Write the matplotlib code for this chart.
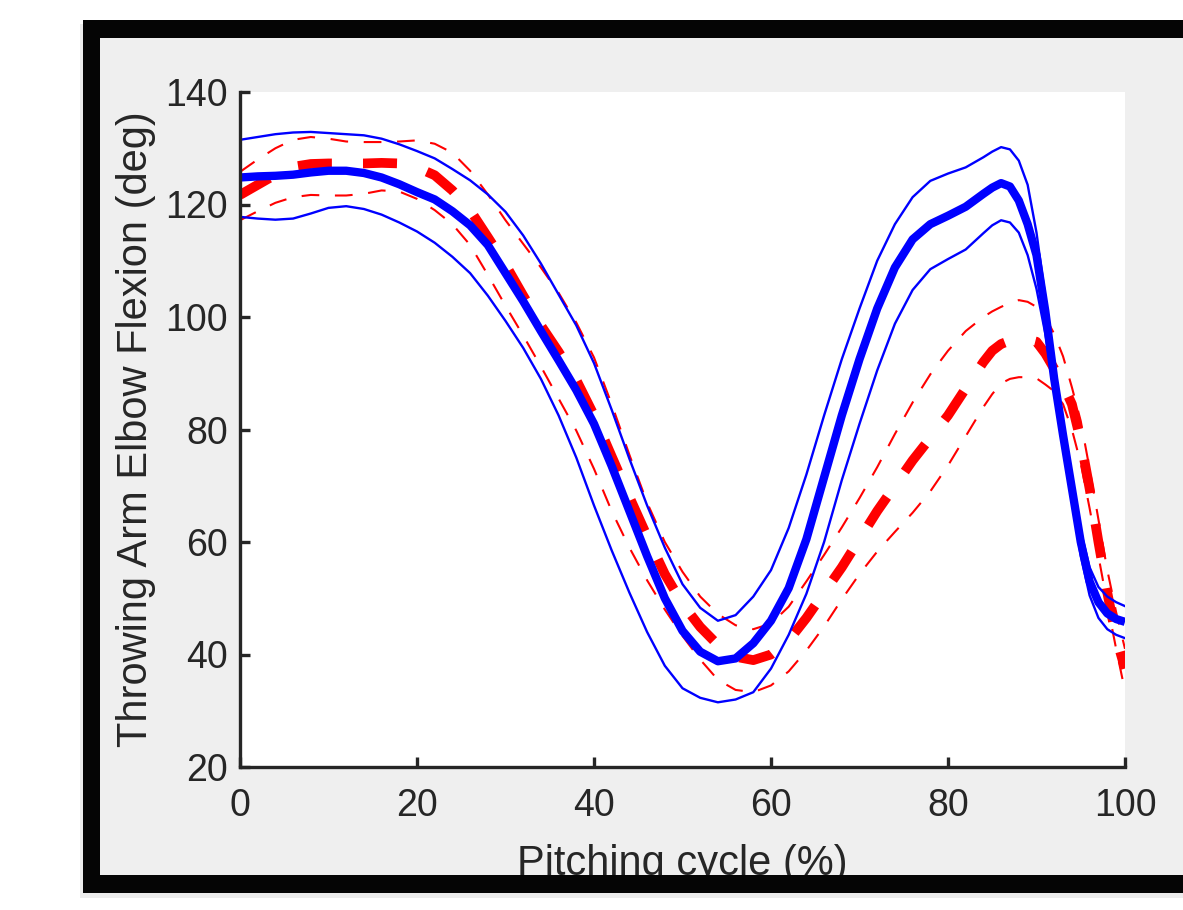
import matplotlib
matplotlib.use("Agg")
import matplotlib.pyplot as plt
from matplotlib.patches import Rectangle

# ---------------- data ----------------
cycle = [0, 2, 4, 6, 8, 10, 12, 14, 16, 18, 20, 22, 24, 26, 28, 30, 32, 34, 36, 38,
         40, 42, 44, 46, 48, 50, 52, 54, 56, 58, 60, 62, 64, 66, 68, 70, 72, 74, 76, 78,
         80, 82, 84, 85, 86, 87, 88, 89, 90, 91, 92, 93, 94, 95, 96, 97, 98, 99, 100]

blue_mean = [124.8, 125.0, 125.1, 125.3, 125.7, 126.0, 126.0, 125.6, 124.8, 123.6,
             122.2, 120.9, 118.8, 116.3, 112.8, 107.8, 102.8, 97.5, 92.3, 87.0,
             81.0, 73.5, 65.5, 57.5, 50.0, 44.2, 40.5, 38.8, 39.3, 42.0,
             46.0, 51.8, 60.5, 71.5, 82.5, 92.5, 101.5, 108.8, 113.8, 116.5,
             118.0, 119.6, 121.9, 123.0, 123.8, 123.2, 120.7, 116.5, 111.0, 101.0,
             89.0, 79.0, 69.5, 60.0, 53.0, 49.3, 47.3, 46.3, 45.8]

blue_upper = [131.5, 132.0, 132.5, 132.8, 132.9, 132.7, 132.5, 132.3, 131.7, 130.7,
              129.5, 128.2, 126.3, 124.3, 121.8, 118.7, 114.5, 109.5, 104.0, 98.5,
              91.8, 83.5, 74.8, 66.5, 59.0, 52.5, 48.3, 46.0, 47.0, 50.3,
              55.0, 62.5, 72.0, 82.5, 92.5, 101.5, 110.0, 116.5, 121.3, 124.2,
              125.5, 126.6, 128.4, 129.4, 130.2, 129.8, 127.8, 123.5, 115.0, 103.5,
              91.0, 80.5, 71.0, 62.0, 55.5, 52.0, 50.3, 49.3, 48.6]

blue_lower = [117.8, 117.5, 117.3, 117.5, 118.4, 119.4, 119.7, 119.2, 118.2, 116.8,
              115.2, 113.2, 110.7, 107.8, 103.8, 99.3, 94.5, 89.0, 82.5, 75.0,
              66.5, 58.5, 51.0, 44.0, 38.0, 34.0, 32.3, 31.5, 32.0, 33.3,
              37.5, 43.5, 50.8, 60.0, 71.0, 81.0, 90.5, 98.8, 104.8, 108.5,
              110.3, 112.0, 114.9, 116.3, 117.2, 116.8, 115.0, 111.0, 105.0, 97.0,
              87.0, 77.5, 67.5, 57.5, 50.5, 46.5, 44.5, 43.5, 42.9]

red_mean = [121.7, 123.5, 125.3, 126.7, 127.2, 127.3, 127.3, 127.3, 127.4, 127.3,
            126.6, 125.2, 122.5, 119.0, 114.2, 109.3, 103.8, 98.5, 93.8, 88.8,
            82.5, 75.2, 68.0, 61.0, 54.3, 49.0, 44.9, 41.7, 39.6, 39.0,
            40.0, 42.5, 46.5, 51.0, 55.5, 60.5, 65.5, 70.0, 74.5, 78.5,
            82.5, 87.3, 92.0, 94.0, 95.2, 95.8, 96.0, 96.0, 95.6, 93.5,
            90.8, 88.0, 84.5, 78.0, 69.5, 60.0, 51.0, 43.0, 37.5]

red_upper = [125.8, 128.0, 130.0, 131.5, 132.0, 131.7, 131.2, 131.1, 131.1, 131.2,
             131.4, 130.8, 129.2, 126.0, 121.8, 117.2, 113.0, 108.8, 104.3, 99.0,
             92.8, 84.5, 75.5, 67.0, 60.0, 54.7, 50.3, 47.2, 45.2, 44.5,
             45.5, 48.5, 53.0, 57.7, 62.6, 67.8, 73.3, 79.2, 84.8, 89.8,
             94.0, 97.5, 100.0, 101.0, 101.8, 102.5, 103.0, 102.7, 101.8, 100.0,
             97.0, 93.0, 87.5, 81.5, 73.0, 64.0, 55.0, 47.5, 41.0]

red_lower = [117.2, 118.8, 120.3, 121.3, 121.7, 121.6, 121.6, 121.9, 122.5, 122.3,
             121.0, 119.0, 116.5, 112.8, 107.5, 102.0, 96.7, 91.2, 85.5, 79.8,
             73.0, 65.5, 59.0, 53.2, 48.0, 43.3, 39.1, 35.5, 33.7, 33.3,
             34.5, 37.0, 40.7, 45.0, 49.8, 54.3, 58.3, 61.8, 65.2, 69.0,
             73.6, 78.8, 84.0, 86.3, 88.2, 89.0, 89.3, 89.3, 89.1, 88.0,
             86.8, 84.5, 80.0, 74.0, 66.0, 57.5, 49.0, 41.0, 33.5]

x_ticks = [0, 20, 40, 60, 80, 100]
y_ticks = [20, 40, 60, 80, 100, 120, 140]
x_label = "Pitching cycle (%)"
y_label = "Throwing Arm Elbow Flexion (deg)"

# ---------------- figure ----------------
plt.rcParams['font.family'] = ['Liberation Sans', 'DejaVu Sans']

W, H = 1183, 910
fig = plt.figure(figsize=(W / 100, H / 100), dpi=100, facecolor='white')


def px_rect(x0, y0, x1, y1, **kw):
    r = Rectangle((x0 / W, 1 - y1 / H), (x1 - x0) / W, (y1 - y0) / H,
                  transform=fig.transFigure, linewidth=0, **kw)
    fig.add_artist(r)
    return r


# soft shadow, grey panel, black frame
px_rect(80, 24, 1183, 898, facecolor='#ececec', zorder=-8)
px_rect(100, 38, 1183, 875, facecolor='#efefef', zorder=-5)
px_rect(83, 20, 1183, 38, facecolor='#050505', zorder=10)
px_rect(83, 20, 100, 893, facecolor='#050505', zorder=10)
px_rect(83, 875, 1183, 893, facecolor='#050505', zorder=10)

ax = fig.add_axes([240 / W, 1 - 767 / H, (1125 - 240) / W, (767 - 92) / H])
ax.set_facecolor('white')
ax.set_xlim(0, 100)
ax.set_ylim(20, 140)

dk = '#262626'
for s in ('top', 'right'):
    ax.spines[s].set_visible(False)
for s in ('left', 'bottom'):
    ax.spines[s].set_linewidth(2.4)
    ax.spines[s].set_color(dk)

ax.set_xticks(x_ticks)
ax.set_yticks(y_ticks)
ax.tick_params(direction='in', length=7, width=2.4, colors=dk, labelsize=27)
ax.tick_params(axis='y', pad=8.5)
ax.tick_params(axis='x', pad=15)

# red group (dashed), drawn first
ax.plot(cycle, red_upper, color='#ff0000', lw=1.5, dashes=(8.5, 7.5),
        dash_capstyle='butt', dash_joinstyle='round')
ax.plot(cycle, red_lower, color='#ff0000', lw=1.5, dashes=(8.5, 7.5),
        dash_capstyle='butt', dash_joinstyle='round')
ax.plot(cycle, red_mean, color='#ff0000', lw=7, dashes=(3.5, 3.2),
        dash_capstyle='butt', dash_joinstyle='round')
# blue group (solid)
ax.plot(cycle, blue_upper, color='#0000ff', lw=1.7, solid_joinstyle='round')
ax.plot(cycle, blue_lower, color='#0000ff', lw=1.7, solid_joinstyle='round')
ax.plot(cycle, blue_mean, color='#0000ff', lw=6, solid_joinstyle='round',
        solid_capstyle='butt')

ax.set_xlabel(x_label, fontsize=30, color=dk, labelpad=14.5)
ax.set_ylabel(y_label, fontsize=30, color=dk, labelpad=7)

fig.savefig('out.png', dpi=100, facecolor='white')
